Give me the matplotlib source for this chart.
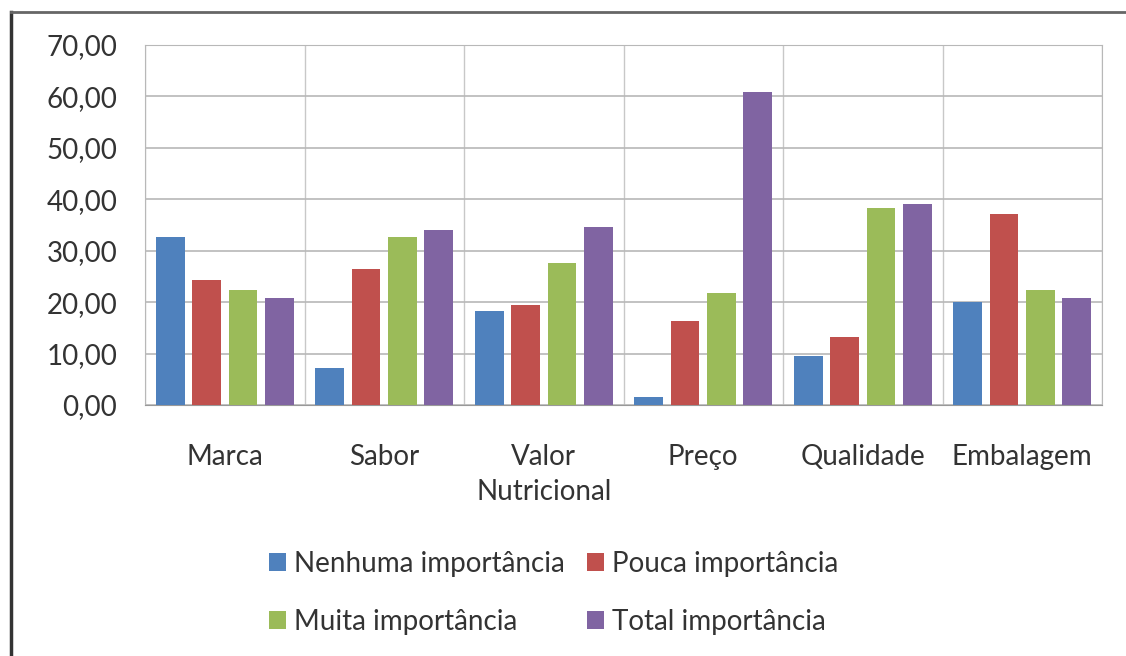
import numpy as np
import matplotlib.pyplot as plt
from matplotlib.lines import Line2D
from matplotlib.patches import Patch

# === DATA ===

categories = ["Marca", "Sabor", "Valor\nNutricional", "Preço", "Qualidade", "Embalagem"]
series_names = [
    "Nenhuma importância",
    "Pouca importância",
    "Muita importância",
    "Total importância",
]
nenhuma = [32.6, 7.2, 18.3, 1.5, 9.6, 20.0]
pouca = [24.3, 26.5, 19.5, 16.3, 13.2, 37.2]
muita = [22.3, 32.7, 27.6, 21.8, 38.3, 22.3]
total = [20.8, 34.0, 34.7, 60.8, 39.0, 20.9]
y_ticks = [0, 10, 20, 30, 40, 50, 60, 70]

colors = ["#4F81BD", "#C0504D", "#9BBB59", "#8064A2"]
text_color = "#333333"

plt.rcParams["font.family"] = ["Lato", "DejaVu Sans"]

fig = plt.figure(figsize=(11.26, 6.56), dpi=100)
ax = fig.add_axes([145 / 1126, 1 - 405 / 656, (1102 - 145) / 1126, 360 / 656])

x = np.arange(len(categories))
step = 0.228
width = 0.18
for i, (vals, col, name) in enumerate(zip([nenhuma, pouca, muita, total], colors, series_names)):
    ax.bar(x + (i - 1.5) * step, vals, width=width, color=col, label=name, zorder=3)

ax.set_xlim(-0.5, len(categories) - 0.5)
ax.set_ylim(0, 70)
ax.set_yticks(y_ticks)
ax.set_yticklabels([f"{v:.2f}".replace(".", ",") for v in y_ticks], fontsize=20, color=text_color)
ax.set_xticks(x)
ax.set_xticklabels(categories, fontsize=20, color=text_color, linespacing=1.45)
ax.tick_params(axis="both", length=0)
ax.tick_params(axis="y", pad=20)
ax.tick_params(axis="x", pad=28)

# gridlines: horizontal every 10, vertical every half category
ax.set_xticks(np.arange(-0.5, len(categories), 0.5), minor=True)
ax.grid(True, axis="y", color="#b8b8b8", linewidth=1.2, zorder=0)
ax.grid(True, axis="x", which="minor", color="#c8c8c8", linewidth=1.0, zorder=0)
ax.tick_params(axis="x", which="minor", length=0)
for side in ["left", "right", "top"]:
    ax.spines[side].set_color("#b8b8b8")
ax.spines["bottom"].set_color("#999999")

# legend fills column-wise, so reorder to read row-wise like the original
order = [0, 2, 1, 3]
handles = [Patch(facecolor=colors[k], edgecolor="none") for k in order]
labels = [series_names[k] for k in order]
fig.legend(
    handles,
    labels,
    loc="center",
    bbox_to_anchor=(554 / 1126, 1 - 593 / 656),
    ncol=2,
    frameon=False,
    fontsize=20,
    labelcolor=text_color,
    handlelength=0.6,
    handleheight=0.6,
    handletextpad=0.3,
    columnspacing=0.8,
    labelspacing=1.15,
)

# outer frame (left and top edges of the chart box)
fig.add_artist(Line2D([11 / 1126, 11 / 1126], [0, 1 - 12 / 656], color="#333333", linewidth=2.5))
fig.add_artist(Line2D([11 / 1126, 1], [1 - 12 / 656, 1 - 12 / 656], color="#666666", linewidth=2.0))

fig.savefig("out.png", dpi=100)
